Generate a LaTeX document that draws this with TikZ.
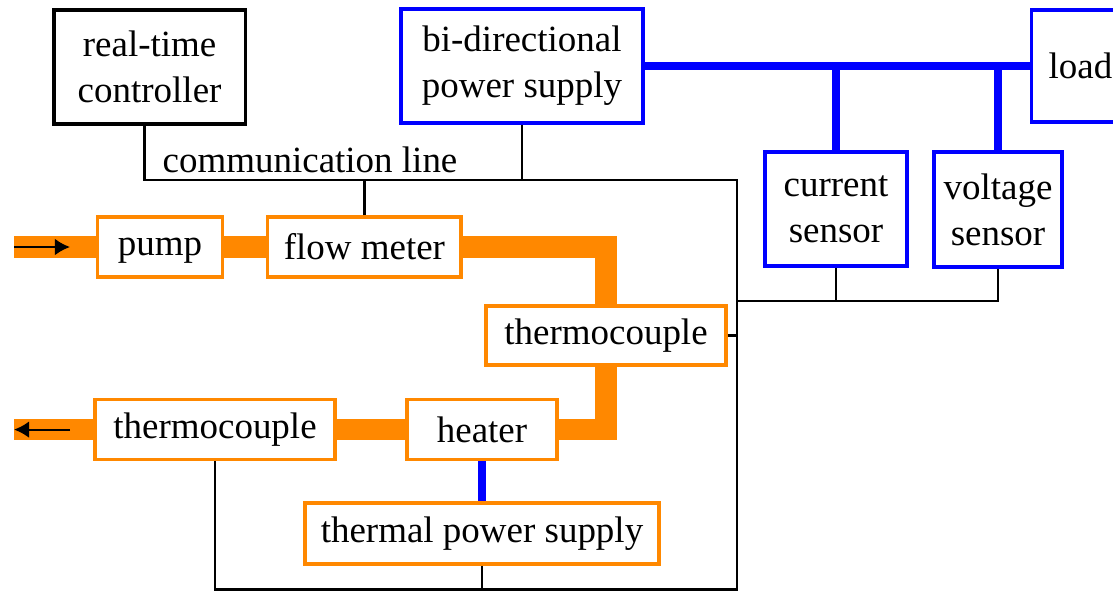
\documentclass[tikz,border=0pt]{standalone}
\usepackage{fontspec}
\setmainfont{Liberation Serif}
\usetikzlibrary{arrows.meta,backgrounds}
\definecolor{pipeorange}{RGB}{255,136,0}
\definecolor{powerblue}{RGB}{0,0,255}
\tikzset{
  txt/.style={font=\fontsize{26.3}{32.7}\selectfont},
  blk/.style={txt,draw=black,line width=2.4pt,fill=white,align=center,inner sep=0pt},
  elec/.style={blk,draw=powerblue},
  fluid/.style={blk,draw=pipeorange,text height=17.9pt},
  pipe/.style={pipeorange,line width=0.54cm},
  bus/.style={powerblue,line width=5.5pt},
  comm/.style={black,line width=1.8pt},
  flowarrow/.style={black,line width=1.5pt,-{Latex[length=0.38cm,width=0.42cm]}}
}
\begin{document}
\begin{tikzpicture}
    \useasboundingbox (0,0) rectangle (27.825,-14.775);

    % control and electrical side
    \node[blk,minimum width=4.78cm,minimum height=2.85cm] (ctrl) at (3.74,-1.675) {real-time\\controller};
    \node[elec,minimum width=6.05cm,minimum height=2.85cm] (bdps) at (13.05,-1.65) {bi-directional\\power supply};
    \node[elec,anchor=west,align=left,text width=2.6cm,inner xsep=0.425cm,minimum height=2.8cm] (load) at (25.75,-1.65) {load};
    \node[elec,minimum width=3.55cm,minimum height=2.85cm] (cur) at (20.9,-5.225) {current\\sensor};
    \node[elec,minimum width=3.2cm,minimum height=2.875cm] (volt) at (24.95,-5.24) {voltage\\sensor};
    \node[txt,anchor=base] (commlbl) at (7.75,-4.3) {communication line};

    % fluid loop
    \node[fluid,minimum width=3.11cm,minimum height=1.5cm] (pump) at (4.0,-6.175) {pump};
    \node[fluid,minimum width=4.83cm,minimum height=1.5cm] (flow) at (9.11,-6.175) {flow meter};
    \node[fluid,minimum width=6.0cm,minimum height=1.475cm] (tc1) at (15.15,-8.39) {thermocouple};
    \node[fluid,minimum width=3.75cm,minimum height=1.5cm] (heater) at (12.05,-10.74) {heater};
    \node[fluid,minimum width=6.0cm,minimum height=1.5cm] (tc2) at (5.375,-10.74) {thermocouple};
    \node[fluid,minimum width=8.85cm,minimum height=1.525cm] (tps) at (12.05,-13.34) {thermal power supply};

    \coordinate (inL) at (0.35,-6.175);
    \coordinate (inArr) at (1.75,-6.175);
    \coordinate (outL) at (0.35,-10.74);
    \coordinate (outArr) at (1.75,-10.74);
    \coordinate (pipeTop) at (15.15,-6.175);
    \coordinate (pipeBot) at (15.15,-10.74);
    \coordinate (commR) at (18.42,-4.5);
    \coordinate (sens) at (18.42,-7.53);
    \coordinate (botR) at (18.42,-14.74);

    \begin{scope}[on background layer]
      % pipes
      \draw[pipe] (inL) -- (pump.west);
      \draw[pipe] (pump.east) -- (flow.west);
      \draw[pipe] (flow.east) -- (pipeTop) -- (tc1.north);
      \draw[pipe] (tc1.south) -- (pipeBot) -- (heater.east);
      \draw[pipe] (heater.west) -- (tc2.east);
      \draw[pipe] (tc2.west) -- (outL);

      % power lines
      \draw[bus] (bdps.east) -- (load.west);
      \draw[bus] (cur.north) -- (cur.north |- bdps.east);
      \draw[bus] (volt.north) -- (volt.north |- bdps.east);
      \draw[bus] (heater.south) -- (tps.north);
    \end{scope}

    \draw[flowarrow] (inL) -- (inArr);
    \draw[flowarrow] (outArr) -- (outL);

    % communication line
    \draw[comm] ([xshift=-0.13cm]ctrl.south) |- (commR) -- (botR) -| (tc2.south);
    \draw[comm] (bdps.south) -- (bdps.south |- commR);
    \draw[comm] (flow.north) -- (flow.north |- commR);
    \draw[comm] (tc1.east) -- (tc1.east -| commR);
    \draw[comm] (cur.south) -- (cur.south |- sens);
    \draw[comm] (volt.south) |- (sens);
    \draw[comm] (tps.south) -- (tps.south |- botR);
  \end{tikzpicture}
\end{document}
